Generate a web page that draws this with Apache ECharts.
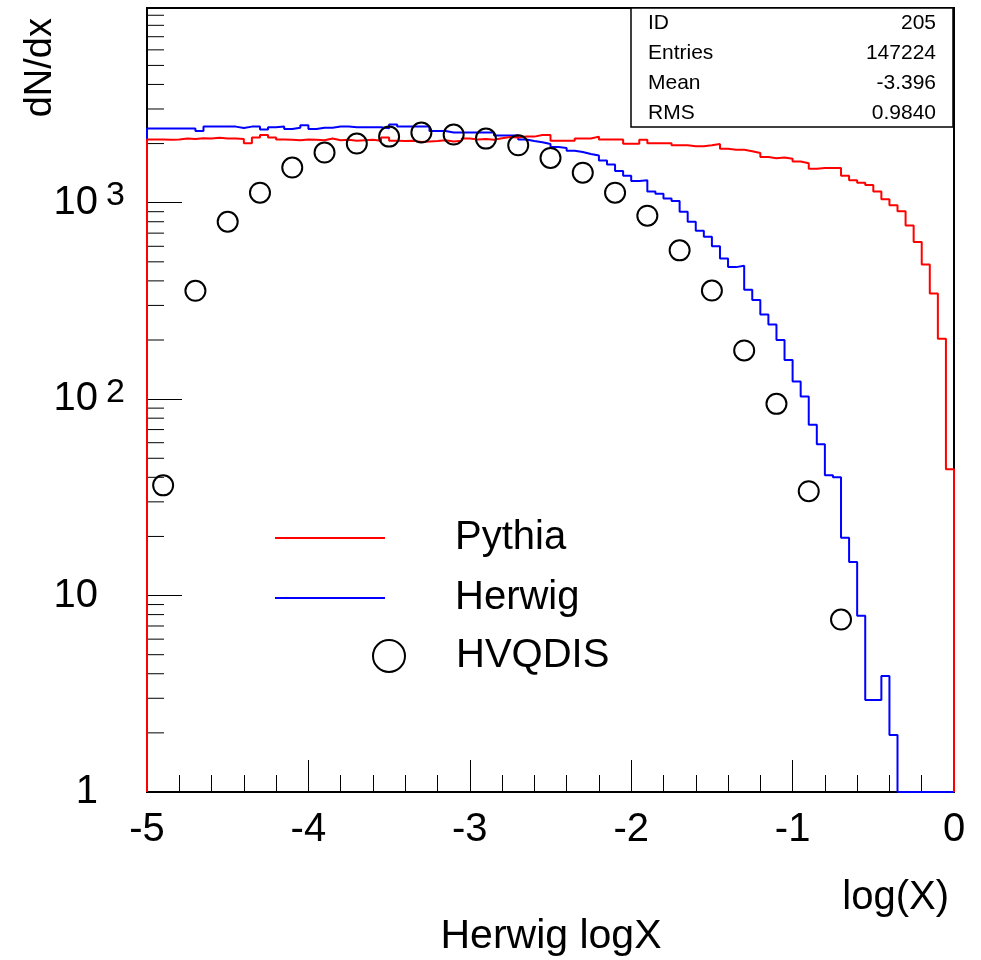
<!DOCTYPE html>
<html>
<head>
<meta charset="utf-8">
<script src="https://cdn.jsdelivr.net/npm/echarts@6/dist/echarts.min.js"></script>
<style>html,body{margin:0;padding:0;background:#fff}#c{width:981px;height:960px}</style>
</head>
<body>
<div id="c"></div>
<script>
// ---- data (100 bins of width 0.05 from -5 to 0) ----
const binLow = -5, binHigh = 0, nBins = 100;
const pythia = [
 2100,2100,2090,2100,2120,2110,2130,2120,2140,2120,
 2120,2110,2010,2150,2210,2150,2100,2090,2080,2100,
 2090,2080,2120,2080,2090,2070,2080,2090,2070,2150,
 2070,2060,2070,2040,2050,2060,2080,2050,2070,2120,
 2100,2110,2090,2130,2160,2150,2170,2170,2210,2210,
 2070,2070,2070,2125,2125,2170,2100,2100,2100,1995,
 1995,2090,2010,2010,2010,1960,1960,1940,1940,1960,
 1990,1880,1860,1860,1830,1790,1710,1685,1700,1675,
 1620,1590,1490,1500,1500,1500,1370,1300,1265,1230,
 1140,1040,970,905,765,630,485,345,203,44
];
const herwig = [
 2390,2390,2390,2390,2390,2390,2320,2440,2440,2440,
 2440,2400,2440,2440,2360,2420,2440,2370,2410,2480,
 2370,2410,2410,2440,2440,2420,2420,2420,2420,2390,
 2500,2440,2440,2440,2440,2320,2320,2280,2280,2280,
 2280,2280,2280,2200,2200,2200,2100,2060,2030,1990,
 1920,1900,1840,1810,1770,1740,1640,1563,1452,1370,
 1290,1300,1140,1110,1050,1020,900,800,720,670,
 600,520,470,478,360,320,270,240,200,158,
 123,103,74,59,41,40,19.7,14.8,7.9,2.94,
 2.94,3.9,1.95,0,0,0,0,0,0,0
];
const hvqdisX = [-4.9,-4.7,-4.5,-4.3,-4.1,-3.9,-3.7,-3.5,-3.3,-3.1,-2.9,-2.7,-2.5,-2.3,-2.1,-1.9,-1.7,-1.5,-1.3,-1.1,-0.9,-0.7];
const hvqdisY = [36.4,356,800,1125,1510,1800,2000,2170,2276,2223,2120,1960,1690,1422,1125,859,572,357,177,94.6,34,7.55];
const yMinorTicks = [2,3,4,5,6,7,8,9,20,30,40,50,60,70,80,90,200,300,400,500,600,700,800,900,2000,3000,4000,5000,6000,7000,8000,9000];
const statsLabels = ['ID','Entries','Mean','RMS'];
const statsValues = ['205','147224','-3.396','0.9840'];
const seriesNames = ['Pythia','Herwig','HVQDIS'];
const xTitle = 'log(X)', yTitle = 'dN/dx', histTitle = 'Herwig logX';

// ---- build ----
const yFloor = 1, yTop = 9800;
const bw = (binHigh - binLow) / nBins;
function edge(i){ return +(binLow + i * bw).toFixed(4); }
function steps(vals){
  const pts = [[edge(0), yFloor]];
  vals.forEach((v, i) => {
    const y = v > 0 ? v : yFloor;
    pts.push([edge(i), y], [edge(i + 1), y]);
  });
  pts.push([edge(vals.length), yFloor]);
  return pts;
}
const FONT = "'Liberation Sans', Arial, Helvetica, sans-serif";
const chart = echarts.init(document.getElementById('c'), null, {renderer:'canvas'});

function yLabel(v){
  const e = Math.round(Math.log10(v));
  if (e === 0) return '{p|1}';
  if (e === 1) return '{p|10}';
  return '{b|10}{s|' + e + '}';
}

const legendBase = {
  orient:'vertical', padding:0, selectedMode:false,
  textStyle:{fontSize:40, lineHeight:40, color:'#000', fontFamily:FONT}
};

const option = {
  animation:false,
  textStyle:{fontFamily:FONT},
  grid:{left:147, right:27, top:8, bottom:168, show:true, borderColor:'#000', borderWidth:2,
        backgroundColor:'transparent', containLabel:false, outerBoundsMode:'none'},
  xAxis:{
    type:'value', min:binLow, max:binHigh, interval:1,
    axisLine:{onZero:false, lineStyle:{color:'#000', width:2}},
    axisTick:{inside:true, length:32, lineStyle:{color:'#000', width:1}},
    minorTick:{show:true, splitNumber:5, length:17, lineStyle:{color:'#000', width:1}},
    splitLine:{show:false},
    axisLabel:{fontSize:40, color:'#000', margin:18, fontFamily:FONT}
  },
  yAxis:{
    type:'log', logBase:10, min:yFloor, max:yTop,
    axisLine:{onZero:false, lineStyle:{color:'#000', width:2}},
    axisTick:{inside:true, length:35, lineStyle:{color:'#000', width:1}},
    minorTick:{show:false},
    splitLine:{show:false},
    axisLabel:{
      showMaxLabel:false, margin:22, color:'#000', formatter:yLabel,
      rich:{
        p:{fontSize:40, lineHeight:40, color:'#000', padding:[0,27,0,0], fontFamily:FONT},
        b:{fontSize:40, lineHeight:40, color:'#000', verticalAlign:'middle', fontFamily:FONT},
        s:{fontSize:34, lineHeight:34, color:'#000', padding:[0,0,14,8], verticalAlign:'middle', fontFamily:FONT}
      }
    }
  },
  legend:[
    Object.assign({}, legendBase, {data:[{name:seriesNames[0], icon:'rect'}], left:275, top:518, itemWidth:110, itemHeight:2,
      textStyle:Object.assign({}, legendBase.textStyle, {padding:[0,0,0,65]})}),
    Object.assign({}, legendBase, {data:[{name:seriesNames[1], icon:'rect'}], left:275, top:578, itemWidth:110, itemHeight:2,
      textStyle:Object.assign({}, legendBase.textStyle, {padding:[0,0,0,65]})}),
    Object.assign({}, legendBase, {data:[seriesNames[2]], left:372, top:636, itemWidth:32, itemHeight:32,
      itemStyle:{color:'rgba(0,0,0,0)', borderColor:'#000', borderWidth:2},
      textStyle:Object.assign({}, legendBase.textStyle, {padding:[0,0,0,46]})})
  ],
  graphic:[
    {type:'rect', z:100, shape:{x:631, y:8, width:322, height:119}, style:{fill:'#fff', stroke:'#000', lineWidth:1.5}},
    ...statsLabels.map((t, i) => ({type:'text', z:101, x:648, y:23 + i * 30,
      style:{text:t, fontSize:21, fontFamily:FONT, fill:'#000', align:'left', verticalAlign:'middle'}})),
    ...statsValues.map((t, i) => ({type:'text', z:101, x:936, y:23 + i * 30,
      style:{text:t, fontSize:21, fontFamily:FONT, fill:'#000', align:'right', verticalAlign:'middle'}})),
    {type:'text', z:101, x:949, y:898, style:{text:xTitle, fontSize:40, fontFamily:FONT, fill:'#000', align:'right', verticalAlign:'middle'}},
    {type:'text', z:101, x:551, y:937, style:{text:histTitle, fontSize:41, fontFamily:FONT, fill:'#000', align:'center', verticalAlign:'middle'}},
    {type:'text', z:101, x:22, y:18, rotation:Math.PI/2, style:{text:yTitle, fontSize:38, fontFamily:FONT, fill:'#000', align:'right', verticalAlign:'top'}}
  ],
  series:[
    {name:seriesNames[1], type:'line', data:steps(herwig), symbol:'none', lineStyle:{color:'#0000ff', width:2}, itemStyle:{color:'#0000ff'}, z:3},
    {name:seriesNames[0], type:'line', data:steps(pythia), symbol:'none', lineStyle:{color:'#ff0000', width:2}, itemStyle:{color:'#ff0000'}, z:4},
    {name:seriesNames[2], type:'scatter', data:hvqdisX.map((x, i) => [x, hvqdisY[i]]), symbol:'circle', symbolSize:20,
      itemStyle:{color:'rgba(0,0,0,0)', borderColor:'#000', borderWidth:2, opacity:1}, z:5},
    {type:'custom', silent:true, clip:false, z:2, data:yMinorTicks.map(v => [binLow, v]),
      renderItem:function(params, api){
        const p = api.coord([api.value(0), api.value(1)]);
        return {type:'line', shape:{x1:p[0], y1:p[1], x2:p[0] + 17, y2:p[1]}, style:{stroke:'#000', lineWidth:1}};
      }}
  ]
};
chart.setOption(option);
</script>
</body>
</html>
